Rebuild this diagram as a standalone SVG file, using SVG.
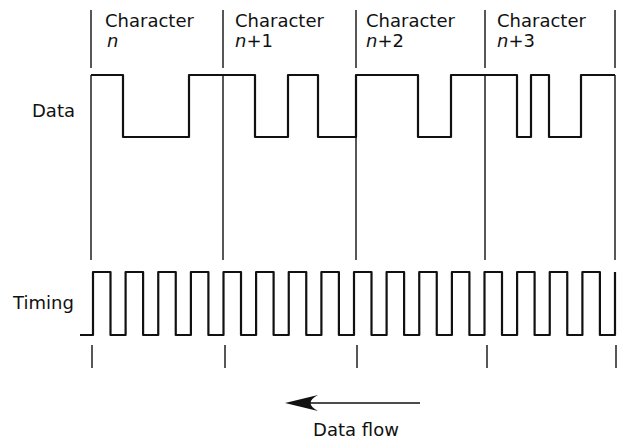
<svg xmlns="http://www.w3.org/2000/svg" width="620" height="442" viewBox="0 0 620 442">
<style>
text{font-family:"DejaVu Sans","Liberation Sans",sans-serif;font-size:18px;fill:#111}
.it{font-style:italic}
.wave{fill:none;stroke:#111;stroke-width:2.2;stroke-linejoin:round}
.div{fill:none;stroke:#111;stroke-width:1.4}
</style>
<rect width="620" height="442" fill="#fff"/>
<g id="dividers">
<path class="div" d="M91,10V68M223,10V68M356,10V68M485,10V68M615,10V68"/>
<path class="div" d="M91,75V260M223,75V260M356,75V260M485,75V260M615,75V260"/>
<path class="div" d="M92,345V368M225,345V368M357,345V368M487,345V368M616,345V368"/>
</g>
<g id="char-n"><text x="105" y="27">Character</text><text x="107" y="47" class="it">n</text></g>
<g id="char-n1"><text x="235" y="27">Character</text><text x="235" y="47"><tspan class="it">n</tspan>+1</text></g>
<g id="char-n2"><text x="366" y="27">Character</text><text x="366" y="47"><tspan class="it">n</tspan>+2</text></g>
<g id="char-n3"><text x="497" y="27">Character</text><text x="497" y="47"><tspan class="it">n</tspan>+3</text></g>
<g id="data"><text x="32" y="117">Data</text>
<path class="wave" d="M91,75H123V137H189V75H255V137H288V75H318V137H356V75H418V137H451V75H517V137H531V75H549V137H581V75H615"/></g>
<g id="timing"><text x="13" y="309">Timing</text>
<path class="wave" d="M80,335H93V272H110.5V335H125.6V272H143.1V335H158.25V272H175.75V335H190.9V272H208.4V335H223.5V272H241V335H256.1V272H273.6V335H288.75V272H306.25V335H321.4V272H338.9V335H354V272H371.5V335H386.6V272H404.1V335H419.25V272H436.75V335H451.9V272H469.4V335H484.5V272H502V335H517.1V272H534.6V335H549.75V272H567.25V335H582.4V272H599.9V335H615V272"/></g>
<g id="connectors">
<path d="M420,403H300" fill="none" stroke="#111" stroke-width="1.6"/>
<path d="M285,403L318,395Q303,403 318,411Z" fill="#111"/>
</g>
<g id="dataflow"><text x="356" y="436" text-anchor="middle">Data flow</text></g>
</svg>
